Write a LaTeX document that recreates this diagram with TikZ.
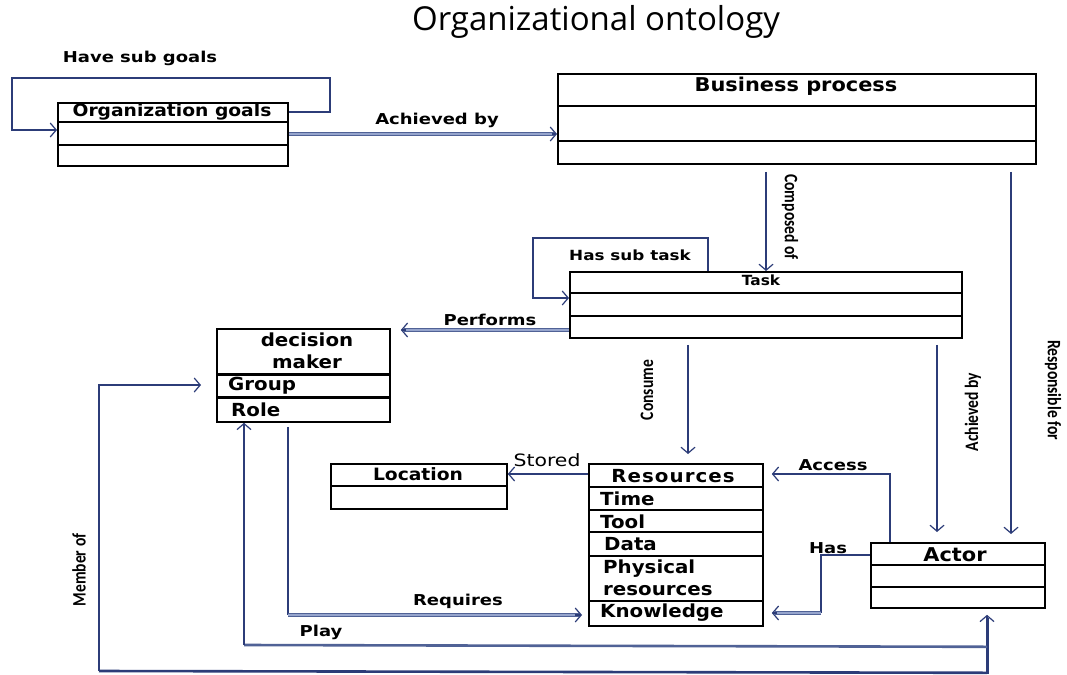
\documentclass[tikz,border=0pt]{standalone}
\usepackage{fontspec}
\usetikzlibrary{arrows.meta,calc}
\newfontfamily\bxf{DejaVu Sans}[FakeStretch=1.1]
\newfontfamily\lbf{DejaVu Sans}[FakeStretch=1.2]
\newfontfamily\vlf{Carlito}[FakeStretch=0.82]
\newfontfamily\ttlf{Open Sans}
\definecolor{navy}{RGB}{44,60,120}
\definecolor{lblue}{RGB}{150,165,205}
\definecolor{mblue}{RGB}{80,98,150}
\begin{document}
\begin{tikzpicture}[x=1pt,y=-1pt,
  box/.style={draw=black, line width=1.8pt, inner sep=0pt, anchor=north west, rectangle},
  sep/.style={draw=black, line width=1.4pt},
  septhick/.style={draw=black, line width=3pt},
  tip/.style={-{Straight Barb[length=6pt,width=14pt,line width=1.2pt,color=navy]}},
  cn/.style={draw=navy, line width=1.3pt},
  cnt/.style={draw=mblue, line width=1.1pt, double=lblue, double distance=2.2pt},
  bt/.style={font=\bxf\bfseries\fontsize{18}{22}\selectfont, inner sep=0pt, text=black},
  lbl/.style={font=\lbf\bfseries\fontsize{15}{18}\selectfont, inner sep=0pt, text=black},
  vl/.style={font=\vlf\bfseries\fontsize{19}{21}\selectfont, inner sep=0pt, text=black}]
\fill[white] (0,0) rectangle (1067,674);
\useasboundingbox (0,0) rectangle (1067,674);

% title
\node[font=\ttlf\fontsize{33}{36}\selectfont, text=black, inner sep=0pt] (title) at (596,22) {Organizational ontology};

% boxes
\node[box, minimum width=230pt, minimum height=63pt] (og) at (57,102) {};
\node[box, minimum width=478pt, minimum height=90pt] (bp) at (557,73) {};
\node[box, minimum width=392pt, minimum height=66pt] (task) at (569,271) {};
\node[box, minimum width=173pt, minimum height=93pt] (dm) at (216,328) {};
\node[box, minimum width=176pt, minimum height=45pt] (loc) at (330,463) {};
\node[box, minimum width=174pt, minimum height=162pt] (res) at (588,463) {};
\node[box, minimum width=174pt, minimum height=65pt] (actor) at (870,542) {};

% compartments
\foreach \y in {122,145} \draw[sep] (og.west |- 0,\y) -- (og.east |- 0,\y);
\foreach \y in {106,141} \draw[sep] (bp.west |- 0,\y) -- (bp.east |- 0,\y);
\foreach \y in {293,316} \draw[sep] (task.west |- 0,\y) -- (task.east |- 0,\y);
\foreach \y in {374,397} \draw[septhick] (dm.west |- 0,\y) -- (dm.east |- 0,\y);
\draw[sep] (loc.west |- 0,486) -- (loc.east |- 0,486);
\foreach \y in {487,510,532,556,601} \draw[sep] (res.west |- 0,\y) -- (res.east |- 0,\y);
\foreach \y in {565,587} \draw[sep] (actor.west |- 0,\y) -- (actor.east |- 0,\y);

% box texts
\node[bt, font=\bxf\bfseries\fontsize{17}{20}\selectfont] (ogt) at (172,112) {Organization goals};
\node[bt, font=\bxf\bfseries\fontsize{19}{22}\selectfont] (bpt) at (796,86) {Business process};
\node[bt, font=\bxf\bfseries\fontsize{14}{16}\selectfont] (taskt) at (761,280) {Task};
\node[bt, align=center] (dmt) at (307,351) {decision\\maker};
\node[bt, anchor=west] (grp) at (228,386) {Group};
\node[bt, anchor=west] (role) at (231,410) {Role};
\node[bt, font=\bxf\bfseries\fontsize{17}{20}\selectfont] (loct) at (418,474) {Location};
\node[bt, font=\bxf\bfseries\fontsize{18}{22}\selectfont\addfontfeature{LetterSpace=6}] (rest) at (673,476) {Resources};
\node[bt, anchor=west] (rtime) at (600,499) {Time};
\node[bt, anchor=west] (rtool) at (600,522) {Tool};
\node[bt, anchor=west] (rdata) at (604,544) {Data};
\node[bt, anchor=west, align=left] (rphys) at (603,578) {Physical\\resources};
\node[bt, anchor=west] (rknow) at (600,613) {Knowledge};
\node[bt, font=\bxf\bfseries\fontsize{19}{22}\selectfont] (actt) at (955,555) {Actor};

% Have sub goals (self loop)
\draw[tip, cn] (og.east |- 0,112) -- (330,112) -- (330,78) -- (12,78) -- (12,130) -- (og.west |- 0,130);
\node[lbl] (lhsg) at (140,58) {Have sub goals};

% Achieved by (goals -> business process)
\draw[cnt, shorten >=3pt] (og.east |- 0,134) -- (bp.west |- 0,134);
\draw[tip, cn, shorten <=263pt] (og.east |- 0,134) -- (bp.west |- 0,134);
\node[lbl] (lach1) at (437,120) {Achieved by};

% Composed of
\draw[tip, cn] (bp.south -| 766,0) ++(0,7) -- (task.north -| 766,0);
\node[vl, rotate=-90] (lcomp) at (790,217) {Composed of};

% Responsible for
\draw[tip, cn, shorten >=8pt] (bp.south -| 1011,0) ++(0,7) -- (actor.north -| 1011,0);
\node[vl, rotate=-90] (lresp) at (1053,390) {Responsible for};

% Has sub task (self loop)
\draw[tip, cn] (task.north -| 708,0) -- (708,238) -- (533,238) -- (533,298) -- (task.west |- 0,298);
\node[lbl, font=\lbf\bfseries\fontsize{14}{16}\selectfont] (lhst) at (630,255) {Has sub task};

% Performs
\draw[cnt, shorten >=13pt] (task.west |- 0,330) -- (dm.east |- 0,330);
\draw[tip, cn, shorten >=10pt, shorten <=163pt] (task.west |- 0,330) -- (dm.east |- 0,330);
\node[lbl] (lperf) at (490,320) {Performs};

% Consume
\draw[tip, cn, shorten >=9pt] (task.south -| 688,0) ++(0,6) -- (res.north -| 688,0);
\node[vl, rotate=90] (lcons) at (647,390) {Consume};

% Achieved by (task -> actor)
\draw[tip, cn, shorten >=10pt] (task.south -| 937,0) ++(0,6) -- (actor.north -| 937,0);
\node[vl, rotate=90] (lach2) at (973,412) {Achieved by};

% Stored
\draw[tip, cn] (res.west |- 0,474) -- (loc.east |- 0,474);
\node[lbl, font=\lbf\fontsize{17}{20}\selectfont] (lstor) at (547,460) {Stored};

% Access
\draw[tip, cn, shorten >=8pt] (actor.north -| 890,0) -- (890,474) -- (res.east |- 0,474);
\node[lbl] (lacc) at (833,465) {Access};

% Has
\draw[cn] (actor.west |- 0,555) -- (821,555) -- (821,613);
\coordinate (hasc) at (821,613);
\draw[cnt, shorten >=11pt] (hasc) -- (res.east |- 0,613);
\draw[tip, cn, shorten >=8pt, shorten <=44pt] (hasc) -- (res.east |- 0,613);
\node[lbl] (lhas) at (828,548) {Has};

% Requires
\draw[cn] (dm.south -| 288,0) ++(0,4) -- (288,615);
\coordinate (reqc) at (288,615);
\draw[cnt, shorten >=9pt] (reqc) -- (res.west |- 0,615);
\draw[tip, cn, shorten >=6pt, shorten <=287pt] (reqc) -- (res.west |- 0,615);
\node[lbl] (lreq) at (458,601) {Requires};

% Actor bottom link
\coordinate (actb) at (987,674);
\draw[draw=navy, line width=3pt, shorten >=9pt] (actb) -- (actor.south -| 987,0);
\draw[tip, cn, shorten >=6pt, shorten <=54pt] (actb) -- (actor.south -| 987,0);

% Play
\coordinate (playc) at (244,645);
\draw[draw=mblue, line width=2.6pt] (actor.south -| 987,0) ++(0,38) -- (playc);
\draw[tip, cn] (playc) -- (dm.south -| 244,0);
\node[lbl] (lplay) at (321,632) {Play};

% Member of
\coordinate (memc) at (99,671);
\draw[draw=navy, line width=2.6pt] (actor.south -| 987,0) ++(0,64) -- (memc);
\draw[tip, cn, shorten >=15pt] (memc) -- (99,385) -- (dm.west |- 0,385);
\node[vl, rotate=90] (lmem) at (79,570) {Member of};
\end{tikzpicture}
\end{document}
